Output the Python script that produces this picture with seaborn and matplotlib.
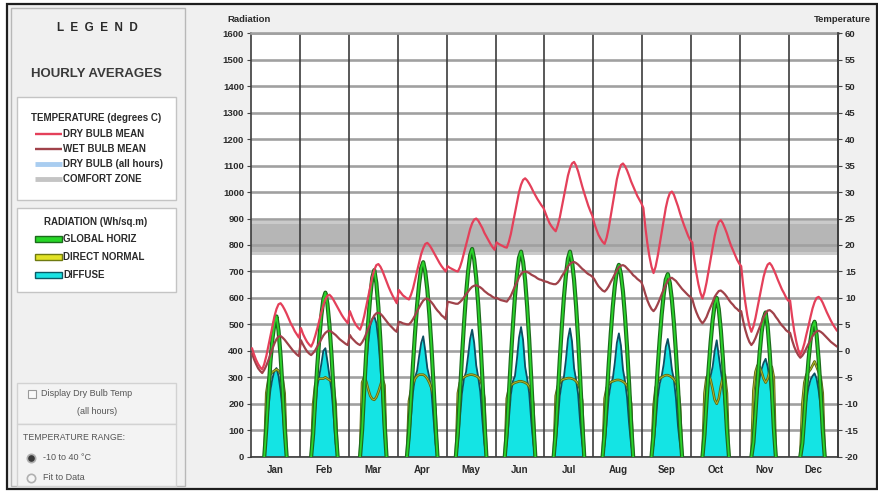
import matplotlib
matplotlib.use("Agg")
import matplotlib.pyplot as plt
from matplotlib.patches import Rectangle
from matplotlib.lines import Line2D
import numpy as np
import pandas as pd
import seaborn as sns

# ---------------------------------------------------------------- data
months = ["Jan", "Feb", "Mar", "Apr", "May", "Jun",
          "Jul", "Aug", "Sep", "Oct", "Nov", "Dec"]
hours = list(range(24))

# hourly averages, degrees C (hour 0..23 for each month)
dry_bulb_mean = [
    [0.5, -0.7, -1.7, -2.5, -3.1, -3.5, -2.5, -1.0, 0.9, 2.8, 4.6, 6.5, 7.9, 8.8, 9.0, 8.5, 7.8, 7.0, 6.1, 5.2, 4.5, 3.7, 3.1, 2.5],
    [4.3, 3.2, 2.4, 1.7, 1.2, 0.8, 1.6, 2.8, 4.2, 5.7, 7.2, 8.6, 9.7, 10.4, 10.6, 10.2, 9.6, 8.9, 8.2, 7.5, 6.8, 6.2, 5.7, 5.2],
    [7.5, 6.5, 5.6, 4.9, 4.4, 4.0, 5.0, 6.5, 8.3, 10.2, 12.1, 13.9, 15.3, 16.2, 16.4, 15.9, 15.1, 14.1, 13.1, 12.1, 11.2, 10.4, 9.7, 9.0],
    [11.5, 11.0, 10.5, 10.2, 9.9, 9.7, 10.6, 11.8, 13.4, 15.1, 16.7, 18.3, 19.4, 20.2, 20.4, 20.0, 19.4, 18.7, 18.0, 17.3, 16.6, 16.0, 15.5, 15.0],
    [16.0, 15.7, 15.5, 15.3, 15.1, 15.0, 15.8, 17.0, 18.5, 20.0, 21.5, 23.0, 24.1, 24.8, 25.0, 24.6, 23.9, 23.2, 22.3, 21.6, 20.9, 20.2, 19.6, 19.1],
    [20.5, 20.2, 20.0, 19.8, 19.6, 19.5, 20.6, 22.1, 24.1, 26.1, 28.0, 30.0, 31.4, 32.3, 32.6, 32.2, 31.6, 30.9, 30.1, 29.4, 28.7, 28.1, 27.5, 27.0],
    [26.0, 25.0, 24.1, 23.5, 23.0, 22.6, 23.7, 25.2, 27.2, 29.2, 31.1, 33.1, 34.5, 35.4, 35.7, 35.0, 33.9, 32.5, 31.1, 29.8, 28.6, 27.4, 26.4, 25.5],
    [24.0, 22.9, 21.9, 21.2, 20.6, 20.2, 21.4, 23.2, 25.5, 27.8, 30.1, 32.4, 34.0, 35.1, 35.4, 34.9, 34.1, 33.1, 32.0, 31.1, 30.2, 29.3, 28.6, 27.9],
    [27.0, 23.3, 20.2, 17.8, 15.9, 14.7, 15.9, 17.8, 20.1, 22.4, 24.7, 27.0, 28.7, 29.8, 30.1, 29.5, 28.4, 27.3, 26.0, 24.8, 23.7, 22.7, 21.7, 20.9],
    [20.5, 17.3, 14.7, 12.6, 11.0, 9.9, 11.1, 12.9, 15.1, 17.3, 19.5, 21.7, 23.4, 24.4, 24.7, 24.1, 23.2, 22.2, 21.0, 19.9, 19.0, 18.1, 17.2, 16.5],
    [16.0, 12.3, 9.2, 6.7, 4.8, 3.6, 4.6, 6.2, 8.2, 10.1, 12.1, 14.0, 15.4, 16.3, 16.6, 16.1, 15.3, 14.4, 13.4, 12.5, 11.6, 10.9, 10.1, 9.5],
    [9.5, 6.4, 3.8, 1.8, 0.2, -0.8, 0.1, 1.4, 3.1, 4.7, 6.4, 8.0, 9.2, 10.0, 10.2, 9.8, 9.1, 8.2, 7.3, 6.5, 5.7, 5.0, 4.4, 3.8],
]

wet_bulb_mean = [
    [-0.5, -1.6, -2.5, -3.3, -3.8, -4.2, -3.6, -2.8, -1.8, -0.7, 0.4, 1.4, 2.2, 2.7, 2.8, 2.5, 2.1, 1.6, 1.1, 0.6, 0.1, -0.3, -0.7, -1.0],
    [2.0, 1.2, 0.5, -0.1, -0.5, -0.8, -0.4, 0.1, 0.8, 1.5, 2.2, 2.9, 3.4, 3.7, 3.8, 3.6, 3.3, 3.0, 2.6, 2.2, 1.9, 1.6, 1.3, 1.1],
    [3.0, 2.4, 2.0, 1.6, 1.3, 1.1, 1.6, 2.3, 3.2, 4.2, 5.1, 6.0, 6.7, 7.1, 7.2, 7.0, 6.6, 6.1, 5.6, 5.1, 4.7, 4.3, 3.9, 3.6],
    [5.5, 5.4, 5.2, 5.1, 5.0, 5.0, 5.4, 6.0, 6.7, 7.5, 8.2, 8.9, 9.5, 9.8, 9.9, 9.6, 9.2, 8.7, 8.1, 7.6, 7.2, 6.7, 6.4, 6.0],
    [9.3, 9.2, 9.1, 9.0, 8.9, 8.9, 9.2, 9.6, 10.1, 10.7, 11.2, 11.7, 12.1, 12.3, 12.4, 12.2, 12.0, 11.7, 11.3, 11.0, 10.7, 10.5, 10.2, 10.0],
    [10.0, 9.8, 9.6, 9.5, 9.4, 9.3, 9.8, 10.4, 11.3, 12.2, 13.0, 13.9, 14.5, 14.9, 15.0, 14.9, 14.7, 14.4, 14.2, 14.0, 13.7, 13.5, 13.4, 13.2],
    [13.1, 13.0, 12.8, 12.7, 12.6, 12.6, 12.9, 13.4, 14.1, 14.7, 15.3, 16.0, 16.4, 16.7, 16.8, 16.6, 16.3, 15.9, 15.5, 15.2, 14.8, 14.5, 14.3, 14.0],
    [13.5, 12.8, 12.2, 11.8, 11.4, 11.2, 11.6, 12.2, 13.0, 13.7, 14.5, 15.2, 15.8, 16.1, 16.2, 16.0, 15.6, 15.2, 14.8, 14.3, 14.0, 13.6, 13.3, 13.0],
    [12.0, 10.7, 9.5, 8.6, 7.9, 7.5, 8.0, 8.8, 9.7, 10.7, 11.6, 12.5, 13.2, 13.7, 13.8, 13.5, 13.2, 12.7, 12.2, 11.7, 11.3, 10.9, 10.5, 10.2],
    [9.8, 8.4, 7.3, 6.4, 5.7, 5.2, 5.7, 6.4, 7.4, 8.3, 9.2, 10.2, 10.8, 11.3, 11.4, 11.1, 10.7, 10.2, 9.6, 9.1, 8.7, 8.2, 7.9, 7.5],
    [7.5, 5.6, 4.0, 2.7, 1.7, 1.1, 1.6, 2.4, 3.4, 4.4, 5.4, 6.4, 7.1, 7.6, 7.7, 7.4, 7.0, 6.4, 5.9, 5.3, 4.8, 4.4, 3.9, 3.6],
    [3.4, 2.0, 0.8, -0.1, -0.8, -1.3, -0.9, -0.3, 0.5, 1.3, 2.0, 2.8, 3.3, 3.7, 3.8, 3.6, 3.3, 2.9, 2.5, 2.1, 1.7, 1.4, 1.1, 0.8],
]

# hourly averages, Wh/sq.m
global_horiz = [
    [0, 0, 0, 0, 0, 0, 0, 106, 239, 355, 445, 504, 530, 477, 382, 254, 106, 0, 0, 0, 0, 0, 0, 0],
    [0, 0, 0, 0, 0, 0, 87, 217, 341, 446, 533, 595, 620, 577, 496, 384, 248, 105, 0, 0, 0, 0, 0, 0],
    [0, 0, 0, 0, 0, 0, 99, 247, 388, 508, 606, 677, 705, 656, 564, 437, 282, 120, 0, 0, 0, 0, 0, 0],
    [0, 0, 0, 0, 0, 88, 221, 353, 470, 573, 654, 713, 735, 698, 632, 537, 419, 279, 125, 0, 0, 0, 0, 0],
    [0, 0, 0, 0, 0, 94, 236, 377, 502, 612, 699, 761, 785, 746, 675, 573, 447, 298, 133, 0, 0, 0, 0, 0],
    [0, 0, 0, 0, 0, 93, 233, 372, 496, 605, 690, 752, 775, 736, 667, 566, 442, 295, 132, 0, 0, 0, 0, 0],
    [0, 0, 0, 0, 0, 90, 228, 368, 492, 600, 686, 748, 775, 738, 668, 568, 445, 298, 135, 0, 0, 0, 0, 0],
    [0, 0, 0, 0, 0, 87, 218, 348, 464, 566, 645, 703, 725, 689, 624, 529, 413, 276, 123, 0, 0, 0, 0, 0],
    [0, 0, 0, 0, 0, 83, 207, 331, 442, 538, 614, 669, 690, 656, 593, 504, 393, 262, 117, 0, 0, 0, 0, 0],
    [0, 0, 0, 0, 0, 0, 84, 210, 330, 432, 516, 576, 600, 558, 480, 372, 240, 102, 0, 0, 0, 0, 0, 0],
    [0, 0, 0, 0, 0, 0, 55, 164, 283, 387, 469, 523, 545, 491, 392, 262, 109, 0, 0, 0, 0, 0, 0, 0],
    [0, 0, 0, 0, 0, 0, 51, 153, 265, 362, 439, 490, 510, 459, 367, 245, 102, 0, 0, 0, 0, 0, 0, 0],
]

direct_normal = [
    [0, 0, 0, 0, 0, 0, 0, 240, 290, 310, 320, 325, 330, 325, 315, 295, 240, 0, 0, 0, 0, 0, 0, 0],
    [0, 0, 0, 0, 0, 0, 200, 270, 290, 295, 295, 295, 300, 295, 290, 285, 270, 200, 0, 0, 0, 0, 0, 0],
    [0, 0, 0, 0, 0, 0, 280, 300, 285, 255, 230, 218, 215, 225, 245, 270, 295, 270, 0, 0, 0, 0, 0, 0],
    [0, 0, 0, 0, 0, 210, 250, 275, 295, 305, 310, 310, 310, 305, 295, 280, 260, 230, 180, 0, 0, 0, 0, 0],
    [0, 0, 0, 0, 0, 240, 280, 295, 300, 305, 308, 310, 310, 308, 305, 300, 290, 270, 220, 0, 0, 0, 0, 0],
    [0, 0, 0, 0, 0, 220, 255, 270, 275, 280, 282, 285, 285, 283, 280, 275, 265, 245, 200, 0, 0, 0, 0, 0],
    [0, 0, 0, 0, 0, 230, 265, 280, 290, 293, 295, 297, 297, 295, 292, 285, 275, 255, 210, 0, 0, 0, 0, 0],
    [0, 0, 0, 0, 0, 220, 260, 275, 282, 285, 288, 290, 290, 288, 284, 278, 268, 245, 200, 0, 0, 0, 0, 0],
    [0, 0, 0, 0, 0, 190, 260, 285, 295, 300, 305, 308, 308, 305, 300, 292, 280, 255, 190, 0, 0, 0, 0, 0],
    [0, 0, 0, 0, 0, 0, 240, 300, 310, 290, 255, 215, 200, 220, 265, 300, 310, 240, 0, 0, 0, 0, 0, 0],
    [0, 0, 0, 0, 0, 0, 250, 320, 345, 340, 320, 295, 280, 295, 325, 340, 300, 0, 0, 0, 0, 0, 0, 0],
    [0, 0, 0, 0, 0, 0, 200, 280, 310, 320, 330, 345, 360, 340, 320, 300, 240, 0, 0, 0, 0, 0, 0, 0],
]

diffuse = [
    [0, 0, 0, 0, 0, 0, 0, 90, 180, 250, 295, 325, 335, 305, 250, 175, 75, 0, 0, 0, 0, 0, 0, 0],
    [0, 0, 0, 0, 0, 0, 60, 175, 265, 305, 350, 400, 410, 360, 305, 250, 160, 50, 0, 0, 0, 0, 0, 0],
    [0, 0, 0, 0, 0, 0, 120, 240, 340, 430, 495, 520, 530, 505, 440, 340, 215, 80, 0, 0, 0, 0, 0, 0],
    [0, 0, 0, 0, 0, 50, 150, 245, 300, 325, 380, 430, 455, 400, 335, 300, 250, 150, 50, 0, 0, 0, 0, 0],
    [0, 0, 0, 0, 0, 50, 145, 240, 295, 320, 380, 445, 480, 430, 345, 300, 245, 140, 50, 0, 0, 0, 0, 0],
    [0, 0, 0, 0, 0, 50, 140, 235, 285, 305, 370, 450, 490, 440, 340, 295, 240, 135, 50, 0, 0, 0, 0, 0],
    [0, 0, 0, 0, 0, 50, 135, 230, 280, 300, 365, 445, 485, 435, 335, 290, 235, 130, 50, 0, 0, 0, 0, 0],
    [0, 0, 0, 0, 0, 45, 130, 225, 275, 295, 355, 430, 466, 420, 330, 285, 225, 125, 45, 0, 0, 0, 0, 0],
    [0, 0, 0, 0, 0, 45, 125, 220, 275, 305, 350, 415, 445, 400, 330, 290, 220, 115, 45, 0, 0, 0, 0, 0],
    [0, 0, 0, 0, 0, 0, 100, 205, 275, 305, 340, 400, 440, 380, 325, 275, 190, 80, 0, 0, 0, 0, 0, 0],
    [0, 0, 0, 0, 0, 0, 75, 170, 245, 295, 330, 355, 370, 340, 290, 215, 115, 0, 0, 0, 0, 0, 0, 0],
    [0, 0, 0, 0, 0, 0, 65, 150, 215, 260, 290, 305, 315, 295, 250, 185, 95, 0, 0, 0, 0, 0, 0, 0],
]

comfort_zone = (18.2, 24.6)          # degrees C
comfort_core = (18.6, 24.0)
radiation_ticks = list(range(0, 1700, 100))
temperature_ticks = list(range(-20, 65, 5))

# ---------------------------------------------------------------- frames
rows = []
for m, mon in enumerate(months):
    for h in hours:
        rows.append({
            "month": mon, "x": m + (h + 0.5) / 24,
            "dry": dry_bulb_mean[m][h], "wet": wet_bulb_mean[m][h],
            "glob": global_horiz[m][h], "dni": direct_normal[m][h],
            "dif": diffuse[m][h],
        })
df = pd.DataFrame(rows)


def daylight(col):
    """Rows of one radiation series limited to each day's sun-up span."""
    parts = []
    for mon, g in df.groupby("month", sort=False):
        v = g[col].to_numpy()
        nz = np.nonzero(v)[0]
        lo, hi = max(nz[0] - 1, 0), min(nz[-1] + 1, 23)
        parts.append(g.iloc[lo:hi + 1])
    return pd.concat(parts)


# ---------------------------------------------------------------- style
sns.set_style("white")
plt.rcParams["font.family"] = ["Liberation Sans", "DejaVu Sans"]
plt.rcParams["axes.unicode_minus"] = False

W, H = 879, 491
fig = plt.figure(figsize=(W / 100, H / 100), dpi=100, facecolor="white")


def fx(px):
    return px / W


def fy(py):
    return 1 - py / H


def box(x0, y0, x1, y1, face, edge, lw=1.0, z=0):
    fig.add_artist(Rectangle((fx(x0), fy(y1)), (x1 - x0) / W, (y1 - y0) / H,
                             transform=fig.transFigure, facecolor=face,
                             edgecolor=edge, lw=lw, zorder=z))


# window background and legend panel
box(7, 4, 877, 489, "#f0f0f0", "#1e1e1e", lw=1.6, z=-5)
box(11, 8, 185, 486, "#f0f0f0", "#b8b8b8", lw=1.0, z=-4)
box(17, 97, 176, 200, "white", "#c4c4c4", lw=1.0, z=-3)
box(17, 208, 176, 292, "white", "#c4c4c4", lw=1.0, z=-3)
box(17, 383, 176, 424, "#f3f3f3", "#d2d2d2", lw=1.0, z=-3)
box(17, 424, 176, 486, "#f3f3f3", "#d2d2d2", lw=1.0, z=-3)

txt_dark = "#2b2b2b"
fam = ["Liberation Sans", "DejaVu Sans"]
fig.text(fx(97), fy(28), "L  E  G  E  N  D", ha="center", va="center",
         fontsize=8.5, fontweight="bold", color=txt_dark, family=fam)
fig.text(fx(96), fy(74), "HOURLY AVERAGES", ha="center", va="center",
         fontsize=9.5, fontweight="bold", color="#3a3a3a", family=fam)

fig.text(fx(96), fy(118), "TEMPERATURE (degrees C)", ha="center", va="center",
         fontsize=7, fontweight="bold", color=txt_dark, family=fam)
legend_lines = [
    (134, "DRY BULB MEAN", "#e4405a", 1.7),
    (149, "WET BULB MEAN", "#a0424a", 1.7),
    (164, "DRY BULB (all hours)", "#a9cdf0", 3.5),
    (179, "COMFORT ZONE", "#c4c4c4", 3.5),
]
for y, label, col, lw in legend_lines:
    fig.add_artist(Line2D([fx(35), fx(62)], [fy(y), fy(y)], color=col, lw=lw,
                          transform=fig.transFigure, solid_capstyle="butt"))
    fig.text(fx(63), fy(y), label, ha="left", va="center", fontsize=7,
             fontweight="bold", color=txt_dark, family=fam)

fig.text(fx(96), fy(222), "RADIATION (Wh/sq.m)", ha="center", va="center",
         fontsize=7, fontweight="bold", color=txt_dark, family=fam)
legend_swatches = [
    (239, "GLOBAL HORIZ", "#27d627", "#1c6b1c"),
    (257, "DIRECT NORMAL", "#e2e226", "#6f7a10"),
    (275, "DIFFUSE", "#19e3e3", "#0b5a66"),
]
for y, label, face, edge in legend_swatches:
    box(35, y - 3, 62, y + 3, face, edge, lw=1.0, z=2)
    fig.text(fx(63), fy(y), label, ha="left", va="center", fontsize=7,
             fontweight="bold", color=txt_dark, family=fam)

box(28, 390, 36, 398, "#fafafa", "#9a9a9a", lw=0.8, z=2)
fig.text(fx(41), fy(394), "Display Dry Bulb Temp", ha="left", va="center",
         fontsize=6.5, color="#555555", family=fam)
fig.text(fx(97), fy(412), "(all hours)", ha="center", va="center",
         fontsize=6.5, color="#555555", family=fam)
fig.text(fx(23), fy(438), "TEMPERATURE RANGE:", ha="left", va="center",
         fontsize=6.3, color="#555555", family=fam)
for y, label, filled in [(458, "-10 to 40 °C", True), (478, "Fit to Data", False)]:
    fig.add_artist(Line2D([fx(31)], [fy(y)], marker="o", markersize=6,
                          markerfacecolor="#3a3a3a" if filled else "#f6f6f6",
                          markeredgecolor="#b0b0b0", markeredgewidth=1.2,
                          transform=fig.transFigure))
    fig.text(fx(43), fy(y), label, ha="left", va="center", fontsize=6.5,
             color="#555555", family=fam)

# ---------------------------------------------------------------- chart
ax = fig.add_axes([fx(251), fy(456.7), (838 - 251) / W, (456.7 - 33.3) / H])
ax.set_facecolor("white")
ax.set_xlim(0, 12)
ax.set_ylim(0, 1600)

# comfort zone in radiation units (twin axes share the same pixels)
lo_r, hi_r = [(t + 20) * 20 for t in comfort_zone]
ax.axhspan(lo_r, hi_r, color="#cacaca", lw=0, zorder=0.5)
lo_c, hi_c = [(t + 20) * 20 for t in comfort_core]
ax.axhspan(lo_c, hi_c, color="#b6b6b6", lw=0, zorder=0.6)

for r in radiation_ticks:
    ax.axhline(r, color="#a0a0a0", lw=1.9, zorder=1)
for m in range(1, 12):
    ax.axvline(m, color="#3c3c3c", lw=1.2, zorder=1.2)

# diffuse filled, direct normal and global horizontal as outlined lines
dif_df = daylight("dif")
for mon, g in dif_df.groupby("month", sort=False):
    ax.fill_between(g["x"], 0, g["dif"], color="#14e4e4", lw=0, zorder=2)
sns.lineplot(data=dif_df, x="x", y="dif", units="month", estimator=None,
             sort=False, color="#0b4f63", lw=1.3, ax=ax, legend=False, zorder=2.2)

dni_df = daylight("dni")
sns.lineplot(data=dni_df, x="x", y="dni", units="month", estimator=None,
             sort=False, color="#5d6a14", lw=1.9, ax=ax, legend=False, zorder=2.4)
sns.lineplot(data=dni_df, x="x", y="dni", units="month", estimator=None,
             sort=False, color="#b9bd2e", lw=0.6, ax=ax, legend=False, zorder=2.5)

glob_df = daylight("glob")
sns.lineplot(data=glob_df, x="x", y="glob", units="month", estimator=None,
             sort=False, color="#1c6b1c", lw=3.0, ax=ax, legend=False, zorder=2.7)
sns.lineplot(data=glob_df, x="x", y="glob", units="month", estimator=None,
             sort=False, color="#2bd42b", lw=1.3, ax=ax, legend=False, zorder=2.8)

ax.set_xticks([m + 0.5 for m in range(12)])
ax.set_xticklabels(months, fontsize=7, fontweight="bold", color=txt_dark)
ax.tick_params(axis="x", length=0, pad=6)
ax.set_yticks(radiation_ticks)
ax.set_yticklabels([str(r) for r in radiation_ticks], fontsize=6.8,
                   fontweight="bold", color=txt_dark)
ax.tick_params(axis="y", length=3, width=0.8, pad=2, color="#444444")
ax.set_xlabel("")
ax.set_ylabel("")
for side in ["left", "bottom", "right"]:
    ax.spines[side].set_color("#3c3c3c")
    ax.spines[side].set_linewidth(1.2)
ax.spines["top"].set_color("#a0a0a0")
ax.spines["top"].set_linewidth(1.9)

# temperature on the right-hand scale
ax2 = ax.twinx()
ax2.set_ylim(-20, 60)
sns.lineplot(data=df, x="x", y="wet", estimator=None, sort=False,
             color="#a0424a", lw=1.6, ax=ax2, legend=False)
sns.lineplot(data=df, x="x", y="dry", estimator=None, sort=False,
             color="#e4405a", lw=1.6, ax=ax2, legend=False)
ax2.set_yticks(temperature_ticks)
ax2.set_yticklabels([str(t) for t in temperature_ticks], fontsize=6.8,
                    fontweight="bold", color=txt_dark)
ax2.tick_params(axis="y", length=3, width=0.8, pad=2, color="#444444")
ax2.set_ylabel("")
ax2.set_xlabel("")
for side in ["left", "bottom", "top"]:
    ax2.spines[side].set_visible(False)
ax2.spines["right"].set_color("#3c3c3c")
ax2.spines["right"].set_linewidth(1.2)

fig.text(fx(227), fy(20), "Radiation", ha="left", va="center", fontsize=6.8,
         fontweight="bold", color=txt_dark, family=fam)
fig.text(fx(871), fy(20), "Temperature", ha="right", va="center", fontsize=6.8,
         fontweight="bold", color=txt_dark, family=fam)

fig.savefig("out.png", dpi=100, facecolor=fig.get_facecolor())
